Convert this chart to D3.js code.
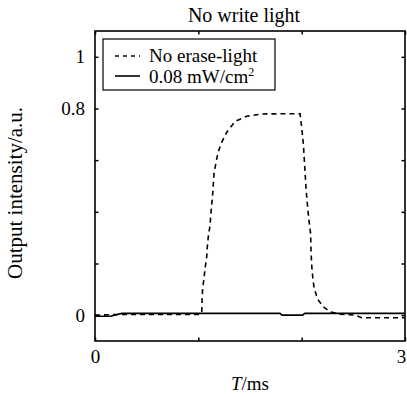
<!DOCTYPE html>
<html><head><meta charset="utf-8">
<script src="https://cdn.jsdelivr.net/npm/d3@7"></script>
<style>body{margin:0;background:#fff;} svg{display:block;} text{font-family:"Liberation Serif","Times New Roman",serif;fill:#000;}</style>
</head><body>
<svg id="c" width="407" height="397"></svg>
<script>
const title = "No write light";
const xLabel = "/ms";
const yLabel = "Output intensity/a.u.";
const seriesNames = ["No erase-light", "0.08 mW/cm"];
const xTicks = [0, 1, 2, 3];
const xTickLabels = ["0", "", "", "3"];
const yTicks = [0, 0.2, 0.4, 0.6, 0.8, 1];
const yTickLabels = ["0", "", "", "", "0.8", "1"];
// Series: no erase light (dashed)
const noEraseT = [0, 0.25, 0.5, 1.0, 1.033, 1.036, 1.042, 1.055, 1.065, 1.081, 1.087, 1.096, 1.113, 1.12, 1.129, 1.139, 1.152, 1.171, 1.19, 1.226, 1.275, 1.355, 1.468, 1.626, 1.984, 2.0, 2.016, 2.032, 2.044, 2.055, 2.064, 2.074, 2.087, 2.09, 2.097, 2.107, 2.119, 2.151, 2.21, 2.274, 2.37, 2.52, 2.58, 3.0];
const noEraseV = [0, 0.003, 0.003, 0.003, 0.008, 0.058, 0.104, 0.143, 0.181, 0.225, 0.264, 0.302, 0.347, 0.386, 0.425, 0.47, 0.548, 0.591, 0.629, 0.669, 0.708, 0.75, 0.77, 0.779, 0.78, 0.727, 0.664, 0.56, 0.479, 0.431, 0.393, 0.354, 0.315, 0.255, 0.193, 0.148, 0.109, 0.064, 0.032, 0.013, 0.004, 0.0, -0.01, -0.01];
// Series: 0.08 mW/cm2 (solid)
const eraseT = [0, 0.03, 0.15, 0.26, 1.79, 1.81, 2.01, 2.03, 3.0];
const eraseV = [-0.003, -0.004, -0.004, 0.007, 0.007, 0.0, 0.0, 0.007, 0.007];

const svg = d3.select("#c");
const L = 95, R = 405, T = 31, B = 341;
const x = d3.scaleLinear().domain([0, 3]).range([L, R]);
const y = d3.scaleLinear().domain([-0.1, 1.1]).range([B, T]);
const fs = 19;

// ticks (inward, all four sides)
const tk = 3.5;
const axB = svg.append("g").attr("transform", `translate(0,${B})`)
  .call(d3.axisBottom(x).tickValues(xTicks).tickSizeInner(-tk).tickSizeOuter(0).tickPadding(8).tickFormat((d,i)=>xTickLabels[i]));
const axT = svg.append("g").attr("transform", `translate(0,${T})`)
  .call(d3.axisTop(x).tickValues(xTicks).tickSizeInner(-tk).tickSizeOuter(0).tickFormat(""));
const axL = svg.append("g").attr("transform", `translate(${L},0)`)
  .call(d3.axisLeft(y).tickValues(yTicks).tickSizeInner(-tk).tickSizeOuter(0).tickPadding(10).tickFormat((d,i)=>yTickLabels[i]));
const axR = svg.append("g").attr("transform", `translate(${R},0)`)
  .call(d3.axisRight(y).tickValues(yTicks).tickSizeInner(-tk).tickSizeOuter(0).tickFormat(""));
[axB, axT, axL, axR].forEach(a => {
  a.select(".domain").remove();
  a.selectAll(".tick line").attr("stroke", "#000").attr("stroke-width", 1.5);
  a.selectAll("text").attr("font-size", fs).attr("font-family", "Liberation Serif");
});
axB.selectAll("text").attr("dy", "0.75em");
axB.selectAll(".tick text").filter(d => d === 3).attr("dx", -4);

// frame
svg.append("rect").attr("x", L).attr("y", T).attr("width", R - L).attr("height", B - T)
  .attr("fill", "none").attr("stroke", "#000").attr("stroke-width", 1.6);

const line = d3.line().x(d => x(d[0])).y(d => y(d[1]));
svg.append("path").datum(noEraseT.map((t, i) => [t, noEraseV[i]]))
  .attr("d", line).attr("fill", "none").attr("stroke", "#000").attr("stroke-width", 1.6).attr("stroke-dasharray", "5,4");
svg.append("path").datum(eraseT.map((t, i) => [t, eraseV[i]]))
  .attr("d", line).attr("fill", "none").attr("stroke", "#000").attr("stroke-width", 1.6);

// title
svg.append("text").attr("x", 244).attr("y", 22).attr("text-anchor", "middle").attr("font-size", 20).text(title);

// x label
const xl = svg.append("text").attr("x", 250).attr("y", 390).attr("text-anchor", "middle").attr("font-size", fs);
xl.append("tspan").attr("font-style", "italic").text("T");
xl.append("tspan").text(xLabel);

// y label
svg.append("text").attr("transform", "translate(22,193) rotate(-90)").attr("text-anchor", "middle").attr("font-size", 21).text(yLabel);

// legend
const lg = svg.append("g");
lg.append("rect").attr("x", 103).attr("y", 39).attr("width", 172).attr("height", 51)
  .attr("fill", "#fff").attr("stroke", "#000").attr("stroke-width", 1.2);
lg.append("line").attr("x1", 115).attr("x2", 140).attr("y1", 56).attr("y2", 56)
  .attr("stroke", "#000").attr("stroke-width", 1.6).attr("stroke-dasharray", "4,4");
lg.append("line").attr("x1", 115).attr("x2", 140).attr("y1", 76).attr("y2", 76)
  .attr("stroke", "#000").attr("stroke-width", 1.6);
lg.append("text").attr("x", 149).attr("y", 62).attr("font-size", fs).text(seriesNames[0]);
const t2 = lg.append("text").attr("x", 149).attr("y", 83).attr("font-size", fs).text(seriesNames[1]);
t2.append("tspan").attr("font-size", 12).attr("dy", -7).text("2");
</script>
</body></html>
